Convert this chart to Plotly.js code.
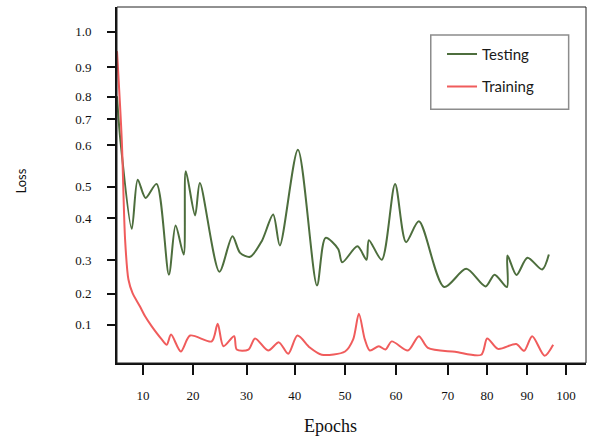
<!DOCTYPE html>
<html>
<head>
<meta charset="utf-8">
<script src="https://cdn.plot.ly/plotly-3.0.1.min.js"></script>
<style>html,body{margin:0;padding:0;background:#fff;}#chart{width:589px;height:439px;}</style>
</head>
<body>
<div id="chart"></div>
<script>
// Testing loss (epoch, loss)
const testEpochs = [3.0, 3.7, 6.1, 7.35, 9.0, 11.3, 13.9, 15.3, 17.0, 17.45, 19.4, 20.4, 24.5, 27.25, 28.85, 30.95, 33.4, 35.8, 37.2, 41.0, 45.0, 46.8, 49.45, 50.3, 53.5, 55.4, 55.9, 58.6, 61.4, 63.7, 66.4, 71.7, 76.35, 80.4, 82.3, 84.9, 85.0, 86.9, 89.2, 92.3, 93.7];
const testLoss   = [0.800, 0.667, 0.393, 0.544, 0.488, 0.531, 0.252, 0.403, 0.314, 0.570, 0.434, 0.534, 0.261, 0.370, 0.319, 0.307, 0.355, 0.437, 0.342, 0.636, 0.219, 0.365, 0.331, 0.290, 0.339, 0.298, 0.358, 0.298, 0.531, 0.352, 0.416, 0.214, 0.270, 0.216, 0.252, 0.214, 0.311, 0.251, 0.304, 0.268, 0.314];

// Training loss
const trainEpochs = [3.0, 4.0, 4.7, 5.4, 6.25, 7.8, 8.9, 10.3, 12.4, 13.45, 14.35, 16.4, 18.35, 22.9, 24.15, 25.35, 27.6, 28.15, 30.6, 32.0, 34.75, 37.0, 38.95, 40.9, 43.5, 46.0, 50.9, 52.6, 53.8, 55.05, 56.1, 58.0, 59.4, 60.7, 64.1, 66.4, 68.3, 74.0, 79.5, 80.75, 83.0, 86.85, 88.5, 90.2, 92.8, 94.6];
const trainLoss   = [0.939, 0.667, 0.360, 0.237, 0.196, 0.155, 0.124, 0.093, 0.053, 0.037, 0.068, 0.016, 0.065, 0.047, 0.101, 0.032, 0.063, 0.022, 0.022, 0.056, 0.019, 0.044, 0.009, 0.065, 0.028, 0.006, 0.016, 0.053, 0.132, 0.053, 0.019, 0.032, 0.022, 0.047, 0.019, 0.063, 0.027, 0.015, 0.006, 0.056, 0.024, 0.039, 0.018, 0.063, 0.003, 0.037];

// Tick labels as drawn (the original axis spacing is uneven)
const xTickText = ['10', '20', '30', '40', '50', '60', '70', '80', '90', '100'];
const xTickVals = [8.46, 18.97, 30.2, 40.35, 50.86, 61.58, 72.44, 80.7, 89.11, 97.3];
const yTickText = ['1.0', '0.9', '0.8', '0.7', '0.6', '0.5', '0.4', '0.3', '0.2', '0.1'];
const yTickVals = [0.998, 0.889, 0.799, 0.730, 0.650, 0.522, 0.426, 0.297, 0.194, 0.098];

const serif = 'Liberation Serif, Times New Roman, serif';

const traces = [
  {x: testEpochs, y: testLoss, name: 'Testing', mode: 'lines', legendgroup: 'a',
   line: {color: '#4d6e3d', width: 2, shape: 'spline', smoothing: 0.8}},
  {x: trainEpochs, y: trainLoss, name: 'Training', mode: 'lines', legendgroup: 'b',
   line: {color: '#f05c5c', width: 2, shape: 'spline', smoothing: 0.8}}
];

const layout = {
  width: 589, height: 439,
  margin: {l: 117, r: 3, t: 7, b: 76},
  paper_bgcolor: '#fff', plot_bgcolor: '#fff',
  showlegend: true,
  legend: {x: 0.693, y: 0.9135, xanchor: 'left', yanchor: 'top',
           bgcolor: 'rgba(0,0,0,0)', borderwidth: 0, tracegroupgap: 10,
           traceorder: 'grouped',
           font: {family: 'Lato, sans-serif', size: 15, color: '#1a1a1a'}},
  xaxis: {range: [3, 101.5], showgrid: false, zeroline: false,
          showline: true, linecolor: '#111', linewidth: 2,
          tickmode: 'array', tickvals: xTickVals, ticktext: xTickText,
          ticks: 'outside', ticklen: 10, tickwidth: 2, tickcolor: '#111',
          ticklabelstandoff: 9,
          tickfont: {family: serif, size: 13, color: '#111'}},
  yaxis: {range: [-0.0194, 1.0746], showgrid: false, zeroline: false,
          showline: true, linecolor: '#111', linewidth: 2,
          tickmode: 'array', tickvals: yTickVals, ticktext: yTickText,
          ticks: 'outside', ticklen: 8, tickwidth: 2, tickcolor: '#111',
          ticklabelstandoff: 13,
          tickfont: {family: serif, size: 13, color: '#111'}},
  shapes: [
    {type: 'rect', xref: 'paper', yref: 'paper', x0: 0, x1: 1, y0: 0, y1: 1,
     line: {color: '#222', width: 1}},
    {type: 'rect', xref: 'paper', yref: 'paper', x0: 0.669, x1: 0.963, y0: 0.7127, y1: 0.9213,
     line: {color: '#8c8c8c', width: 1.5}}
  ],
  annotations: [
    {text: 'Epochs', xref: 'paper', yref: 'paper', x: (330.5 - 117) / 469, y: -(426 - 363) / 356,
     xanchor: 'center', yanchor: 'middle', showarrow: false,
     font: {family: serif, size: 18, color: '#111'}},
    {text: 'Loss', xref: 'paper', yref: 'paper', x: (20.5 - 117) / 469, y: (363 - 181) / 356,
     xanchor: 'center', yanchor: 'middle', showarrow: false, textangle: -90,
     font: {family: 'Lato, sans-serif', size: 13, color: '#111'}}
  ]
};

Plotly.newPlot('chart', traces, layout, {displayModeBar: false, staticPlot: true});
</script>
</body>
</html>
